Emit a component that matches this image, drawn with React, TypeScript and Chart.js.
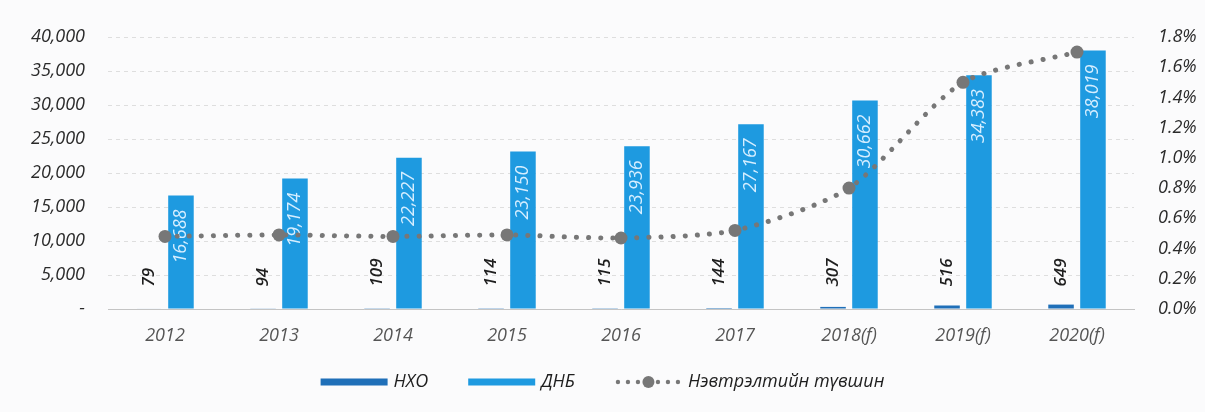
import React, { useEffect, useRef } from "react";
import { Chart, registerables } from "chart.js";

Chart.register(...registerables);

const categories = ["2012", "2013", "2014", "2015", "2016", "2017", "2018(f)", "2019(f)", "2020(f)"];
const nhoValues = [79, 94, 109, 114, 115, 144, 307, 516, 649];
const dnbValues = [16688, 19174, 22227, 23150, 23936, 27167, 30662, 34383, 38019];
const penetration = [0.48, 0.49, 0.48, 0.49, 0.47, 0.52, 0.8, 1.5, 1.7];
const seriesNames = ["НХО", "ДНБ", "Нэвтрэлтийн түвшин"];

const NHO_COLOR = "#1f6fb8";
const DNB_COLOR = "#1e9ae0";
const LINE_COLOR = "#777777";
const FONT = "'Open Sans', 'Noto Sans', sans-serif";

const bgPlugin = {
  id: "bg",
  beforeDraw(chart: any) {
    const { ctx, width, height } = chart;
    ctx.save();
    ctx.fillStyle = "#fbfbfc";
    ctx.fillRect(0, 0, width, height);
    ctx.restore();
  },
};

const barLabelPlugin = {
  id: "barLabels",
  afterDatasetDraw(chart: any, args: any) {
    const idx = args.index;
    if (idx !== 0 && idx !== 1) return;
    const ctx = chart.ctx;
    const meta = chart.getDatasetMeta(idx);
    const values = chart.data.datasets[idx].data as number[];
    ctx.save();
    meta.data.forEach((el: any, i: number) => {
      const text = values[i].toLocaleString("en-US");
      ctx.save();
      ctx.translate(el.x, 0);
      ctx.rotate(-Math.PI / 2);
      ctx.textBaseline = "middle";
      if (idx === 0) {
        ctx.font = `italic 600 17px ${FONT}`;
        ctx.fillStyle = "#1e1e1e";
        ctx.textAlign = "left";
        ctx.fillText(text, -(el.base - 22), 0);
      } else {
        ctx.font = `italic 18px ${FONT}`;
        ctx.fillStyle = "#d6eeff";
        ctx.textAlign = "right";
        ctx.fillText(text, -(el.y + 14), 0);
      }
      ctx.restore();
    });
    ctx.restore();
  },
};

const legendPlugin = {
  id: "customLegend",
  afterDraw(chart: any) {
    const ctx = chart.ctx;
    ctx.save();
    ctx.font = `italic 18px ${FONT}`;
    const swatchW = 67;
    const gapText = 6;
    const gapItem = 40;
    const items = chart.data.datasets.map((ds: any) => ds);
    const widths = items.map((ds: any) => swatchW + gapText + ctx.measureText(ds.label).width);
    const total = widths.reduce((a: number, b: number) => a + b, 0) + gapItem * (items.length - 1);
    let x = (chart.width - total) / 2;
    const y = 382;
    items.forEach((ds: any, i: number) => {
      if (ds.type === "line") {
        ctx.fillStyle = LINE_COLOR;
        for (let dx = 3; dx <= swatchW - 2; dx += 10) {
          if (Math.abs(dx - swatchW / 2) < 8) continue;
          ctx.beginPath();
          ctx.arc(x + dx, y, 2.2, 0, Math.PI * 2);
          ctx.fill();
        }
        ctx.beginPath();
        ctx.arc(x + swatchW / 2, y, 6, 0, Math.PI * 2);
        ctx.fill();
      } else {
        ctx.fillStyle = ds.backgroundColor;
        ctx.fillRect(x, y - 3.5, swatchW, 7);
      }
      ctx.fillStyle = "#1e1e1e";
      ctx.textAlign = "left";
      ctx.textBaseline = "middle";
      ctx.fillText(ds.label, x + swatchW + gapText, y);
      x += widths[i] + gapItem;
    });
    ctx.restore();
  },
};

export default function App() {
  const ref = useRef<HTMLCanvasElement>(null);

  useEffect(() => {
    document.body.style.margin = "0";
    const canvas = ref.current as HTMLCanvasElement;
    const chart = new Chart(canvas, {
      type: "bar",
      data: {
        labels: categories,
        datasets: [
          {
            type: "bar",
            label: seriesNames[0],
            data: nhoValues,
            backgroundColor: NHO_COLOR,
            yAxisID: "y",
            order: 1,
            categoryPercentage: 0.56,
            barPercentage: 0.8,
          },
          {
            type: "bar",
            label: seriesNames[1],
            data: dnbValues,
            backgroundColor: DNB_COLOR,
            yAxisID: "y",
            order: 1,
            categoryPercentage: 0.56,
            barPercentage: 0.8,
          },
          {
            type: "line",
            label: seriesNames[2],
            data: penetration,
            yAxisID: "y1",
            borderColor: LINE_COLOR,
            borderWidth: 5,
            borderDash: [0.1, 12],
            borderCapStyle: "round",
            pointRadius: 6.5,
            pointBackgroundColor: LINE_COLOR,
            pointBorderWidth: 0,
            tension: 0.25,
            order: 0,
          },
        ] as any,
      },
      options: {
        responsive: false,
        animation: false,
        layout: { padding: { top: 37, left: 0, right: 0, bottom: 0 } },
        plugins: {
          legend: { display: false },
          tooltip: { enabled: false },
        },
        scales: {
          x: {
            grid: { display: false, drawTicks: false },
            border: { display: true, color: "#c4c4c4", width: 1 },
            ticks: {
              color: "#555555",
              font: { family: FONT, size: 18, style: "italic" },
              padding: 16,
              maxRotation: 0,
            },
            afterFit: (scale: any) => {
              scale.height = 103;
            },
          },
          y: {
            position: "left",
            min: 0,
            max: 40000,
            grid: { color: "#dedede", drawTicks: false },
            border: { display: false, dash: [4, 4] },
            ticks: {
              stepSize: 5000,
              color: "#2a2a2a",
              font: { family: FONT, size: 18, style: "italic" },
              padding: 23,
              callback: (v: any) => (Number(v) === 0 ? "-" : Number(v).toLocaleString("en-US")),
            },
            afterFit: (scale: any) => {
              scale.width = 108;
            },
          },
          y1: {
            position: "right",
            min: 0,
            max: 1.8,
            grid: { display: false, drawTicks: false },
            border: { display: false },
            ticks: {
              stepSize: 0.2,
              color: "#2a2a2a",
              font: { family: FONT, size: 18, style: "italic" },
              padding: 24,
              callback: (v: any) => Number(v).toFixed(1) + "%",
            },
            afterFit: (scale: any) => {
              scale.width = 71;
            },
          },
        },
      } as any,
      plugins: [bgPlugin, barLabelPlugin, legendPlugin],
    });
    return () => chart.destroy();
  }, []);

  return (
    <div style={{ width: 1205, height: 412 }}>
      <canvas ref={ref} width={1205} height={412} style={{ display: "block" }} />
    </div>
  );
}
